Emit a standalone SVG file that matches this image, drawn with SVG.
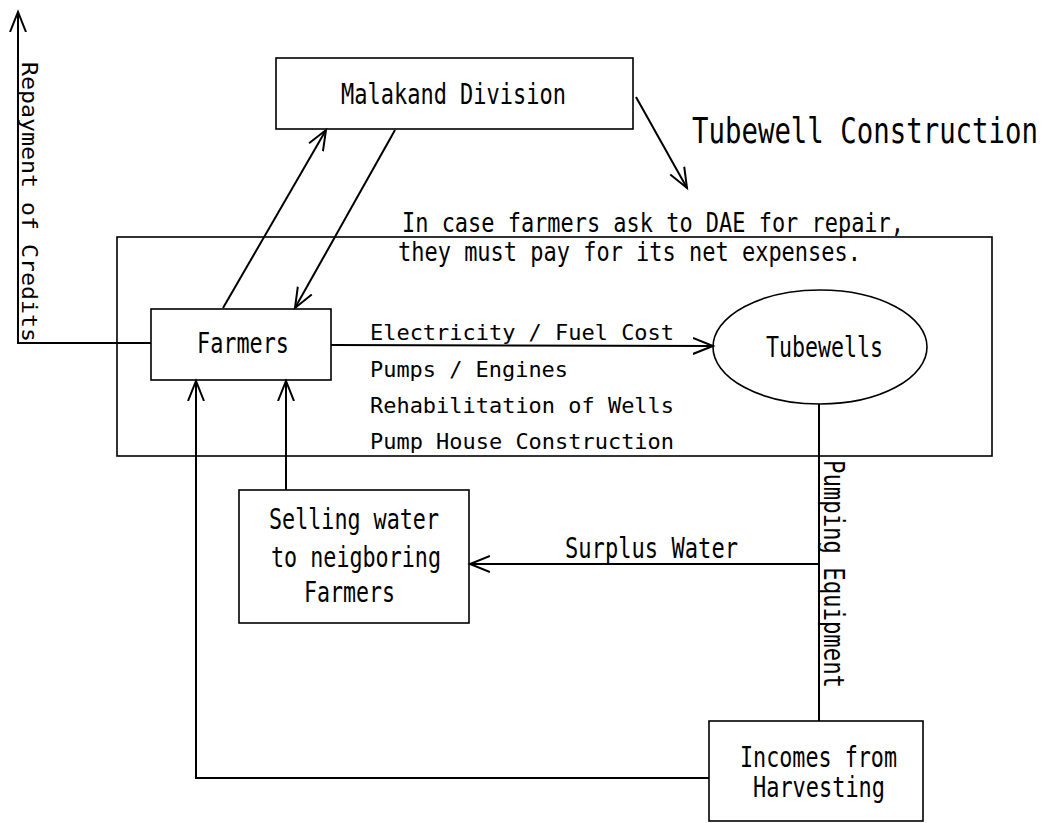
<svg xmlns="http://www.w3.org/2000/svg" width="1049" height="823" viewBox="0 0 1049 823">
<style>
.box{fill:none;stroke:#000;stroke-width:1.6}
.ln{fill:none;stroke:#000;stroke-width:2}
.t{font-family:"DejaVu Sans Mono","Liberation Mono",monospace;fill:#000;font-size:28px}
.n{font-family:"DejaVu Sans Mono","Liberation Mono",monospace;fill:#000;font-size:26px}
.s{font-family:"DejaVu Sans Mono","Liberation Mono",monospace;fill:#000;font-size:22px}
</style>
<defs>
<marker id="arr" markerUnits="userSpaceOnUse" markerWidth="24" markerHeight="20" refX="20" refY="8" orient="auto" viewBox="0 0 24 16">
<path d="M0,0 L20,8 L0,16" fill="none" stroke="#000" stroke-width="2"/>
</marker>
</defs>
<rect width="1049" height="823" fill="#fff"/>

<g id="frame">
<rect class="box" x="117" y="237" width="875" height="219"/>
<text class="n" x="402" y="232" textLength="502" lengthAdjust="spacingAndGlyphs">In case farmers ask to DAE for repair,</text>
<text class="n" x="398" y="261" textLength="463" lengthAdjust="spacingAndGlyphs">they must pay for its net expenses.</text>
</g>

<g id="malakand">
<rect class="box" x="276" y="58" width="357" height="71"/>
<text class="t" x="341" y="104" textLength="225" lengthAdjust="spacingAndGlyphs">Malakand Division</text>
</g>

<g id="tubewell-construction">
<text class="t" transform="translate(692,143) scale(1,1.25)" x="0" y="0" textLength="346" lengthAdjust="spacingAndGlyphs">Tubewell Construction</text>
</g>

<g id="farmers">
<rect class="box" x="151" y="309" width="180" height="71"/>
<text class="t" x="197" y="353" textLength="92" lengthAdjust="spacingAndGlyphs">Farmers</text>
</g>

<g id="tubewells">
<ellipse class="box" cx="820" cy="347" rx="107" ry="57"/>
<text class="t" x="766" y="357" textLength="117" lengthAdjust="spacingAndGlyphs">Tubewells</text>
</g>

<g id="selling">
<rect class="box" x="239" y="490" width="230" height="133"/>
<text class="t" x="269" y="529" textLength="170" lengthAdjust="spacingAndGlyphs">Selling water</text>
<text class="t" x="271" y="567" textLength="170" lengthAdjust="spacingAndGlyphs">to neigboring</text>
<text class="t" x="304" y="602" textLength="91" lengthAdjust="spacingAndGlyphs">Farmers</text>
</g>

<g id="incomes">
<rect class="box" x="709" y="721" width="214" height="100"/>
<text class="t" x="740" y="767" textLength="157" lengthAdjust="spacingAndGlyphs">Incomes from</text>
<text class="t" x="753" y="797" textLength="132" lengthAdjust="spacingAndGlyphs">Harvesting</text>
</g>

<g id="connectors">
<path class="ln" d="M151,343 L18,343 L18,12" marker-end="url(#arr)"/>
<path class="ln" d="M223,308 L326,130" marker-end="url(#arr)"/>
<path class="ln" d="M395,130 L295,308" marker-end="url(#arr)"/>
<path class="ln" d="M636,97 L687,188" marker-end="url(#arr)"/>
<path class="ln" d="M331,345 L713,346" marker-end="url(#arr)"/>
<path class="ln" d="M819,404 L819,721"/>
<path class="ln" d="M819,564 L470,564" marker-end="url(#arr)"/>
<path class="ln" d="M286,490 L286,381" marker-end="url(#arr)"/>
<path class="ln" d="M709,778 L196,778 L196,381" marker-end="url(#arr)"/>
<text class="s" transform="translate(22,62) rotate(90)" x="0" y="0" textLength="280" lengthAdjust="spacingAndGlyphs">Repayment of Credits</text>
<text class="s" x="370" y="340" textLength="304" lengthAdjust="spacingAndGlyphs">Electricity / Fuel Cost</text>
<text class="s" x="370" y="377" textLength="198" lengthAdjust="spacingAndGlyphs">Pumps / Engines</text>
<text class="s" x="370" y="413" textLength="304" lengthAdjust="spacingAndGlyphs">Rehabilitation of Wells</text>
<text class="s" x="370" y="449" textLength="304" lengthAdjust="spacingAndGlyphs">Pump House Construction</text>
<text class="t" x="565" y="558" textLength="173" lengthAdjust="spacingAndGlyphs">Surplus Water</text>
<text class="t" transform="translate(824,460) rotate(90)" x="0" y="0" textLength="228" lengthAdjust="spacingAndGlyphs">Pumping Equipment</text>
</g>
</svg>
